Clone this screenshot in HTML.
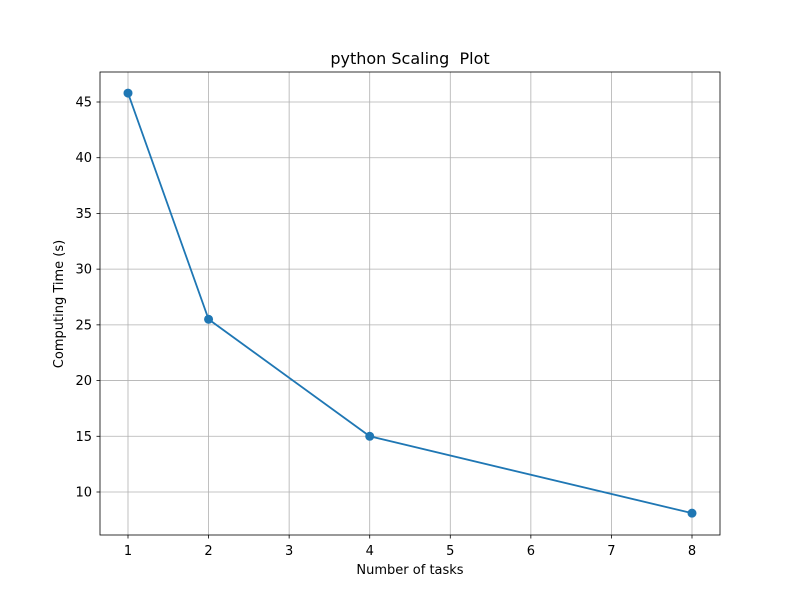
<!DOCTYPE html>
<html><head><meta charset="utf-8"><style>
body{margin:0;background:#fff;}
svg text{font-family:"DejaVu Sans","Liberation Sans",sans-serif;}
</style></head><body>
<svg id="chart" width="800" height="600">
<rect width="800" height="600" fill="#fff"/>
<g id="grid"></g>
<g id="ticks"></g>
<path id="line" fill="none" stroke="#1f77b4" stroke-width="1.8"/>
<g id="points"></g>
<rect x="100" y="72" width="620" height="463" fill="none" stroke="#000" stroke-width="0.8"/>
<text x="410" y="64" text-anchor="middle" font-size="16" style="white-space:pre">python Scaling  Plot</text>
<text x="410" y="574" text-anchor="middle" font-size="13">Number of tasks</text>
<text x="0" y="0" transform="translate(63,304) rotate(-90)" text-anchor="middle" font-size="13">Computing Time (s)</text>
</svg>
<script>
const tasks=[1,2,4,8];
const times=[45.8,25.5,15.0,8.1];
const xTicks=[1,2,3,4,5,6,7,8];
const yTicks=[10,15,20,25,30,35,40,45];
const ns="http://www.w3.org/2000/svg";
function sx(v){return 128+(v-1)*(692-128)/7;}
function sy(v){return 492-(v-10)*(390/35);}
function mk(t,a,p){const e=document.createElementNS(ns,t);for(const k in a)e.setAttribute(k,a[k]);p.appendChild(e);return e;}
const g=document.getElementById('grid'),tk=document.getElementById('ticks');
xTicks.forEach(v=>{const x=sx(v);
const l=mk('line',{x1:x,x2:x,y1:72,y2:535,stroke:'#b0b0b0','stroke-width':0.8},g);


mk('line',{x1:x,x2:x,y1:535,y2:538.5,stroke:'#000','stroke-width':0.8},tk);
const t=mk('text',{x:x,y:555,'text-anchor':'middle','font-size':13},tk);t.textContent=v;

});
yTicks.forEach(v=>{const y=sy(v);
const l=mk('line',{x1:100,x2:720,y1:y,y2:y,stroke:'#b0b0b0','stroke-width':0.8},g);


mk('line',{x1:96.5,x2:100,y1:y,y2:y,stroke:'#000','stroke-width':0.8},tk);
const t=mk('text',{x:92,y:y+4.5,'text-anchor':'end','font-size':13},tk);t.textContent=v;

});
document.getElementById('line').setAttribute('d',tasks.map((v,i)=>(i?'L':'M')+sx(v)+','+sy(times[i])).join(''));
const pg=document.getElementById('points');
tasks.forEach((v,i)=>{const c=mk('circle',{cx:sx(v),cy:sy(times[i]),r:4.5,fill:'#1f77b4'},pg);

});
</script>
</body></html>
